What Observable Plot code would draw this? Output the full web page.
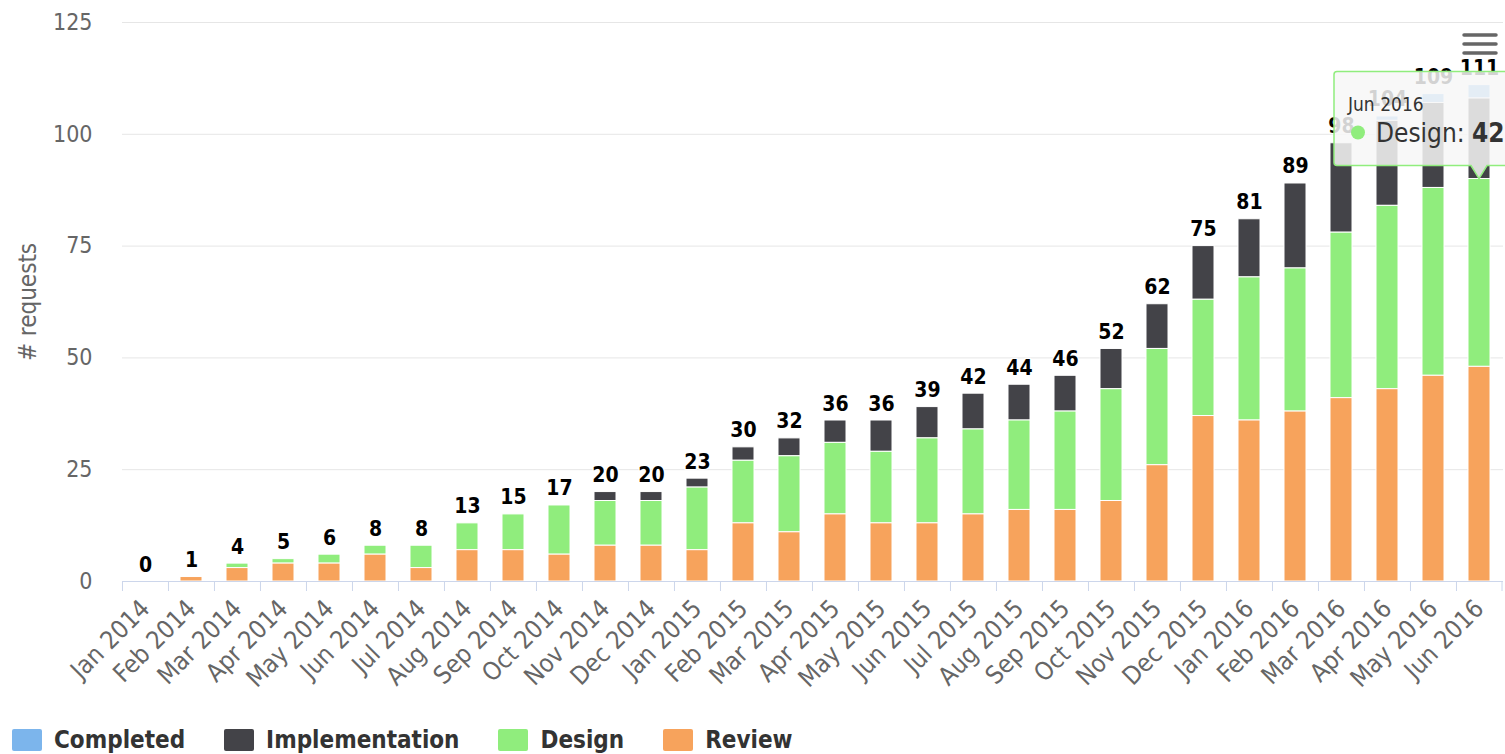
<!DOCTYPE html>
<html>
<head>
<meta charset="utf-8">
<script src="https://cdn.jsdelivr.net/npm/d3@7"></script>
<script src="https://cdn.jsdelivr.net/npm/@observablehq/plot@0.6"></script>
<style>
  html, body { margin: 0; padding: 0; background: #fff; overflow: hidden; }
  #wrap { position: relative; width: 1505px; height: 754px; overflow: hidden; }
  .f { font-family: "DejaVu Sans Condensed", "DejaVu Sans", sans-serif; font-stretch: condensed; }
  #legend { position: absolute; left: 12px; top: 729px; display: flex; align-items: center; }
  #legend .item { display: flex; align-items: center; margin-right: 39px; }
  #legend .sw { width: 30px; height: 22px; border-radius: 2px; margin-right: 12px; }
  #legend .lb { font-weight: bold; font-size: 24px; color: #333; line-height: 22px; }
</style>
</head>
<body>
<div id="wrap" class="f">
  <div id="chart"></div>
  <div id="legend"></div>
</div>
<script>
// ---- data ----
const months = [
  "Jan 2014","Feb 2014","Mar 2014","Apr 2014","May 2014","Jun 2014","Jul 2014","Aug 2014","Sep 2014","Oct 2014","Nov 2014","Dec 2014",
  "Jan 2015","Feb 2015","Mar 2015","Apr 2015","May 2015","Jun 2015","Jul 2015","Aug 2015","Sep 2015","Oct 2015","Nov 2015","Dec 2015",
  "Jan 2016","Feb 2016","Mar 2016","Apr 2016","May 2016","Jun 2016"
];
const seriesNames = ["Completed", "Implementation", "Design", "Review"];
const seriesColors = ["#7cb5ec", "#434348", "#90ed7d", "#f7a35c"];
const stackOrder = ["Review", "Design", "Implementation", "Completed"];

const completed      = [0,0,0,0,0,0,0,0,0,0,0,0, 0,0,0,0,0,0,0,0,0,0,0,0, 0,0,0,1,2,3];
const implementation = [0,0,0,0,0,0,0,0,0,0,2,2, 2,3,4,5,7,7,8,8,8,9,10,12, 13,19,20,19,19,18];
const design         = [0,0,1,1,2,2,5,6,8,11,10,10, 14,14,17,16,16,19,19,20,22,25,26,26, 32,32,37,41,42,42];
const review         = [0,1,3,4,4,6,3,7,7,6,8,8, 7,13,11,15,13,13,15,16,16,18,26,37, 36,38,41,43,46,48];

const yTicks = [0, 25, 50, 75, 100, 125];
const yTitle = "# requests";
const tooltipMonth = "Jun 2016";
const tooltipSeries = "Design";

// ---- build ----
const seriesValues = {Completed: completed, Implementation: implementation, Design: design, Review: review};
const rows = [];
months.forEach((m, i) => {
  for (const s of seriesNames) rows.push({month: m, series: s, value: seriesValues[s][i]});
});
const totals = months.map((m, i) => seriesNames.reduce((a, s) => a + seriesValues[s][i], 0));

const W = 1505, H = 720, ML = 122, MR = 2, MT = 22, MB = 139;
const step = (W - ML - MR) / months.length;
const fontFam = '"DejaVu Sans Condensed", "DejaVu Sans", sans-serif';

const chart = Plot.plot({
  width: W, height: H,
  marginLeft: ML, marginRight: MR, marginTop: MT, marginBottom: MB,
  style: {fontFamily: fontFam, fontStretch: "condensed", background: "#fff", overflow: "hidden"},
  x: {type: "band", domain: months, paddingInner: 0.52, paddingOuter: 0.26, align: 0.5},
  y: {domain: [0, 125]},
  color: {domain: seriesNames, range: seriesColors},
  marks: [
    Plot.gridY(yTicks.filter(t => t > 0), {stroke: "#e6e6e6", strokeOpacity: 1}),
    Plot.axisY(yTicks, {tickSize: 0, tickPadding: 30, fontSize: 23, fill: "#666", label: null}),
    Plot.text([yTitle], {frameAnchor: "left", textAnchor: "middle", dx: -94, rotate: -90, fontSize: 24, fill: "#666"}),
    Plot.barY(rows.filter(d => d.value > 0), {
      x: "month", y: "value", fill: "series", order: stackOrder,
      stroke: "white", strokeWidth: 1
    }),
    Plot.ruleY([0], {stroke: "#ccd6eb"}),
    Plot.ruleX(months, {x: d => d, y1: 0, y2: 0, insetBottom: -10, dx: -step / 2, stroke: "#ccd6eb"}),
    Plot.ruleX(months.slice(-1), {x: d => d, y1: 0, y2: 0, insetBottom: -10, dx: step / 2 - 0.5, stroke: "#ccd6eb"}),
    Plot.axisX({tickSize: 0, tickRotate: -45, tickPadding: 23, fontSize: 25, fill: "#666", label: null}),
    Plot.text(months, {
      x: d => d, y: (d, i) => totals[i], text: (d, i) => String(totals[i]),
      lineAnchor: "bottom", dy: -10, fontSize: 21, fontWeight: "bold",
      fill: "#000", stroke: "white", strokeWidth: 2.5, paintOrder: "stroke"
    })
  ]
});
document.getElementById("chart").appendChild(chart);

// ---- tooltip (positioned through the chart's scales) ----
const xs = chart.scale("x"), ys = chart.scale("y");
const ti = months.indexOf(tooltipMonth);
const tipVal = seriesValues[tooltipSeries][ti];
let base = 0;
for (const s of stackOrder) { if (s === tooltipSeries) break; base += seriesValues[s][ti]; }
const px = xs.apply(tooltipMonth) + xs.bandwidth / 2;
const py = ys.apply(base + tipVal);
const tipColor = seriesColors[seriesNames.indexOf(tooltipSeries)];

const svg = d3.select(chart);
const L = px - 145, T = py - 107, R = L + 190, B = py - 13, r = 3;
const g = svg.append("g").attr("text-anchor", "start");
g.append("path")
  .attr("d", `M${L + r},${T} H${R - r} Q${R},${T} ${R},${T + r} V${B - r} Q${R},${B} ${R - r},${B} H${px + 8} L${px},${py} L${px - 8},${B} H${L + r} Q${L},${B} ${L},${B - r} V${T + r} Q${L},${T} ${L + r},${T} Z`)
  .attr("fill", "rgba(247,247,247,0.85)")
  .attr("stroke", tipColor)
  .attr("stroke-width", 1.5);
g.append("text").attr("x", L + 14).attr("y", T + 39).attr("text-anchor", "start")
  .attr("font-size", 19).attr("fill", "#333").text(tooltipMonth);
g.append("circle").attr("cx", L + 24).attr("cy", T + 61).attr("r", 7).attr("fill", tipColor);
const t2 = g.append("text").attr("x", L + 42).attr("y", T + 70).attr("text-anchor", "start")
  .attr("font-size", 26).attr("fill", "#333");
t2.append("tspan").text(tooltipSeries + ": ");
t2.append("tspan").attr("font-weight", "bold").text(String(tipVal));

// ---- export menu icon ----
const mg = svg.append("g").attr("stroke", "#666").attr("stroke-width", 3.5).attr("stroke-linecap", "round");
[35, 44, 53].forEach(yy => mg.append("line").attr("x1", W - 41).attr("x2", W - 9).attr("y1", yy).attr("y2", yy));

// ---- legend ----
const legend = d3.select("#legend");
seriesNames.forEach((s, i) => {
  const it = legend.append("div").attr("class", "item");
  it.append("div").attr("class", "sw").style("background", seriesColors[i]);
  it.append("div").attr("class", "lb").text(s);
});
</script>
</body>
</html>
